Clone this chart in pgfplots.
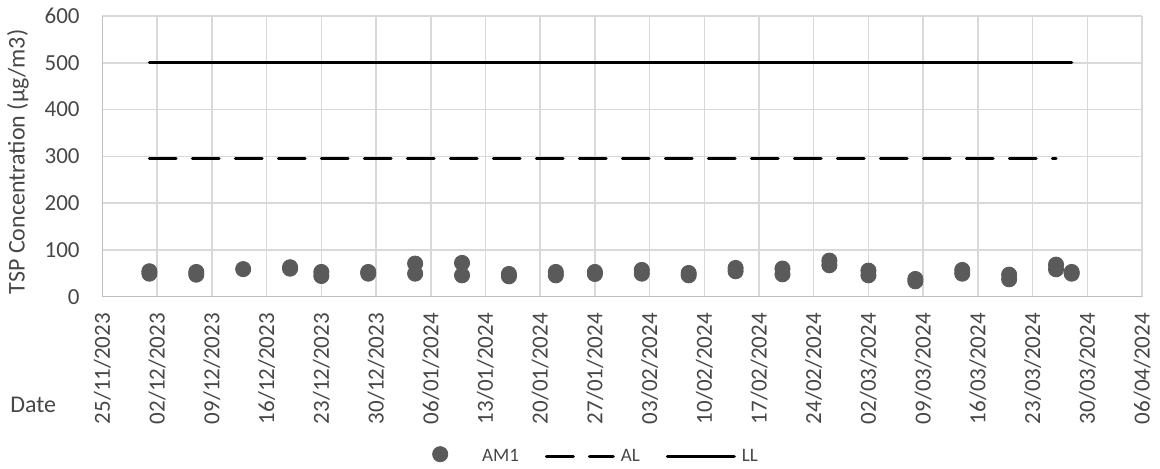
\documentclass[border=0pt]{standalone}
\usepackage{pgfplots}
\pgfplotsset{compat=1.18}
\usepackage{fontspec}
\setmainfont{Carlito}
\definecolor{gridc}{HTML}{D9D9D9}
\definecolor{axc}{HTML}{BFBFBF}
\definecolor{txt}{HTML}{474747}
\definecolor{mk}{HTML}{5A5A5A}
\begin{document}
\begin{tikzpicture}
\useasboundingbox (-51.25pt,-85.65pt) rectangle (528.75pt,148.35pt);
\begin{axis}[
  scale only axis, width=519.75pt, height=140.35pt,
  at={(0pt,0pt)}, anchor=south west,
  xmin=0, xmax=133, ymin=0, ymax=600,
  xtick={0,7,...,133},
  xticklabels={25/11/2023,02/12/2023,09/12/2023,16/12/2023,23/12/2023,30/12/2023,06/01/2024,13/01/2024,20/01/2024,27/01/2024,03/02/2024,10/02/2024,17/02/2024,24/02/2024,02/03/2024,09/03/2024,16/03/2024,23/03/2024,30/03/2024,06/04/2024},
  ytick={0,100,...,600},
  axis x line=bottom, axis y line=left,
  axis line style={-, draw=axc, line width=0.75pt},
  xmajorgrids, ymajorgrids,
  grid style={draw=gridc, line width=0.75pt},
  major tick length=0pt,
  /pgf/number format/assume math mode=true,
  tick label style={font=\fontsize{11.5}{13}\selectfont, text=txt},
  xticklabel style={rotate=90, anchor=east, inner sep=0pt},
  yticklabel style={anchor=east, inner sep=0pt},
  xticklabel shift=8pt,
  yticklabel shift=11.25pt,
  ylabel={TSP Concentration (µg/m3)},
  ylabel style={at={(axis description cs:-0.0813,0.48)}, anchor=center, font=\fontsize{12}{14}\selectfont, text=txt, inner sep=0pt},
  legend columns=3,
  legend style={at={(axis description cs:0.4738,-0.565)}, anchor=center, draw=none, fill=none,
    font=\fontsize{9.5}{11}\selectfont, text=txt, nodes={inner sep=0pt},
    /tikz/every odd column/.append style={column sep=3pt},
    /tikz/every even column/.append style={column sep=13pt}},
  clip=false,
]
\addplot[only marks, mark=*, mark size=3.8pt, mark options={fill=mk, draw=mk},
  legend image code/.code={\path[draw=none, fill=none] (-3.8pt,-3.8pt) rectangle (17.9pt,5.1pt);
    \fill[mk] (0pt,1.3pt) circle[radius=3.8pt];}]
coordinates {
(6,54.4) (6,49.3)
(12,52.9) (12,47.1)
(18,59.0)
(24,63.0) (24,60.0)
(28,52.9) (28,44.3)
(34,52.9) (34,49.3)
(40,70.8) (40,49.3)
(46,72.2) (46,45.7)
(52,48.6) (52,43.6)
(58,52.9) (58,45.7)
(63,52.9) (63,48.6)
(69,57.2) (69,49.3)
(75,50.7) (75,45.7)
(81,61.5) (81,54.4)
(87,60.1) (87,47.9)
(93,77.2) (93,67.2)
(98,55.8) (98,45.7)
(104,37.9) (104,32.9)
(110,57.2) (110,49.3)
(116,47.1) (116,37.2)
(122,68.6) (122,58.6)
(124,52.9) (124,49.3)
};
\addlegendentry{AM1}
\addplot[black, line width=1.65pt, line cap=round, dash pattern=on 13.35pt off 8.15pt,
  legend image code/.code={\path[draw=none, fill=none] (0pt,-3.8pt) rectangle (35pt,5.1pt);
    \draw[black, line width=1.65pt, line cap=round, dash pattern=on 13.35pt off 8.15pt] (0.83pt,0pt) -- (34.17pt,0pt);}]
coordinates {(6,295) (122,295)};
\addlegendentry{AL}
\addplot[black, line width=1.65pt, line cap=round,
  legend image code/.code={\path[draw=none, fill=none] (0pt,-3.8pt) rectangle (35pt,5.1pt);
    \draw[black, line width=1.65pt, line cap=round] (0.83pt,0pt) -- (34.17pt,0pt);}]
coordinates {(6,500) (124,500)};
\addlegendentry{LL}
\end{axis}
\node[anchor=west, inner sep=0pt, font=\fontsize{12}{14}\selectfont, text=txt] at (-46.25pt,-54.15pt) {Date};
\end{tikzpicture}
\end{document}
